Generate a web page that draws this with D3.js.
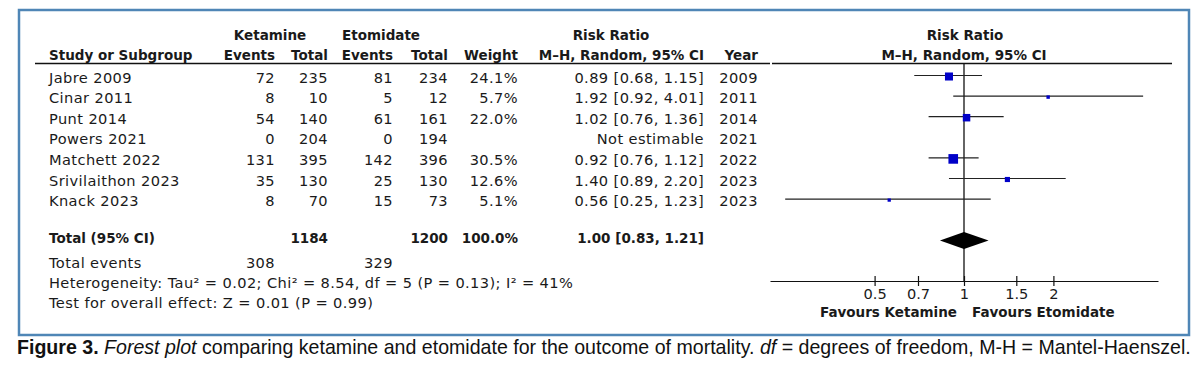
<!DOCTYPE html>
<html><head><meta charset="utf-8">
<script src="https://cdn.jsdelivr.net/npm/d3@7"></script>
<style>
html,body{margin:0;padding:0;background:#fff;}
svg text{font-family:"DejaVu Sans",sans-serif;fill:#1a1a1a;}
</style></head>
<body>
<svg id="c" width="1200" height="376"></svg>
<script>
// ---- data ----
const studies = ["Jabre 2009","Cinar 2011","Punt 2014","Powers 2021","Matchett 2022","Srivilaithon 2023","Knack 2023"];
const ketEvents = [72, 8, 54, 0, 131, 35, 8];
const ketTotal  = [235, 10, 140, 204, 395, 130, 70];
const etoEvents = [81, 5, 61, 0, 142, 25, 15];
const etoTotal  = [234, 12, 161, 194, 396, 130, 73];
const weights   = [24.1, 5.7, 22.0, null, 30.5, 12.6, 5.1];
const rr        = [0.89, 1.92, 1.02, null, 0.92, 1.40, 0.56];
const ciLow     = [0.68, 0.92, 0.76, null, 0.76, 0.89, 0.25];
const ciHigh    = [1.15, 4.01, 1.36, null, 1.12, 2.20, 1.23];
const years     = [2009, 2011, 2014, 2021, 2022, 2023, 2023];
const totalRR   = [1.00, 0.83, 1.21];   // estimate, low, high
const totalN    = [1184, 1200];         // ketamine, etomidate
const totalEvents = [308, 329];
const tickValues = [0.5, 0.7, 1, 1.5, 2];
const tickLabels = ["0.5", "0.7", "1", "1.5", "2"];

const svg = d3.select("#c");
const fmt2 = d3.format(".2f");
const fmtW = d => d == null ? "" : d3.format(".1f")(d) + "%";

// frame
svg.append("rect").attr("x",19).attr("y",10).attr("width",1170).attr("height",325)
  .attr("fill","none").attr("stroke","#4f86b6").attr("stroke-width",2.5);

const x = d3.scaleLog().domain([1/4.5, 4.5]).range([770, 1158]);
const y = d3.scaleLinear().domain([0, studies.length - 1]).range([75.5, 199.1]);
const sz = d3.scaleLinear().domain([0, 100]).range([2, 27]);

const fsR = 14.6, fsB = 13.5;
function txt(t, px, py, anchor, bold) {
  return svg.append("text").attr("x", px).attr("y", py).attr("text-anchor", anchor || "start")
    .attr("font-size", bold ? fsB : fsR).attr("font-weight", bold ? "bold" : "normal")
    .attr("letter-spacing", bold ? 0 : 0.4).text(t);
}

// headers
txt("Ketamine", 270, 40, "middle", true);
txt("Etomidate", 381, 40, "middle", true);
txt("Risk Ratio", 611, 40, "middle", true);
txt("Study or Subgroup", 49, 60, "start", true);
txt("Events", 275, 60, "end", true);
txt("Total", 328, 60, "end", true);
txt("Events", 393, 60, "end", true);
txt("Total", 448, 60, "end", true);
txt("Weight", 518, 60, "end", true);
txt("M\u2013H, Random, 95% CI", 704, 60, "end", true);
txt("Year", 758, 60, "end", true);
txt("Risk Ratio", 965, 40, "middle", true);
txt("M\u2013H, Random, 95% CI", 964, 60, "middle", true);
svg.append("line").attr("x1",35).attr("x2",770).attr("y1",63.5).attr("y2",63.5).attr("stroke","#111").attr("stroke-width",1.3);
svg.append("line").attr("x1",772).attr("x2",1172).attr("y1",63.5).attr("y2",63.5).attr("stroke","#111").attr("stroke-width",1.3);

// rows
studies.forEach((s, i) => {
  const by = y(i) + 7;
  txt(s, 49, by);
  txt(ketEvents[i], 275, by, "end");
  txt(ketTotal[i], 328, by, "end");
  txt(etoEvents[i], 393, by, "end");
  txt(etoTotal[i], 448, by, "end");
  txt(fmtW(weights[i]), 518, by, "end");
  txt(rr[i] == null ? "Not estimable" : `${fmt2(rr[i])} [${fmt2(ciLow[i])}, ${fmt2(ciHigh[i])}]`, 704, by, "end");
  txt(years[i], 758, by, "end");
});

// totals
const ty = 243;
txt("Total (95% CI)", 49, ty, "start", true);
txt(totalN[0], 328, ty, "end", true);
txt(totalN[1], 448, ty, "end", true);
txt("100.0%", 518, ty, "end", true);
txt(`${fmt2(totalRR[0])} [${fmt2(totalRR[1])}, ${fmt2(totalRR[2])}]`, 704, ty, "end", true);
txt("Total events", 49, 268);
txt(totalEvents[0], 275, 268, "end");
txt(totalEvents[1], 393, 268, "end");
txt("Heterogeneity: Tau\u00b2 = 0.02; Chi\u00b2 = 8.54, df = 5 (P = 0.13); I\u00b2 = 41%", 49, 288);
txt("Test for overall effect: Z = 0.01 (P = 0.99)", 49, 308);

// forest plot
const axisY = 281;
svg.append("line").attr("x1", x(1)).attr("x2", x(1)).attr("y1", 64).attr("y2", axisY)
  .attr("stroke","#111").attr("stroke-width",1.3);
const g = svg.append("g");
studies.forEach((s, i) => {
  if (rr[i] == null) return;
  g.append("line").attr("x1", x(ciLow[i])).attr("x2", x(ciHigh[i]))
    .attr("y1", y(i)).attr("y2", y(i)).attr("stroke","#222").attr("stroke-width",1.2);
  const w = sz(weights[i]);
  g.append("rect").attr("x", x(rr[i]) - w/2).attr("y", y(i) - w/2 + 1)
    .attr("width", w).attr("height", w).attr("fill","#0000c8");
});
const dy = 240.5, dh = 8.5;
svg.append("path").attr("d",
  `M${x(totalRR[1])},${dy} L${x(totalRR[0])},${dy-dh} L${x(totalRR[2])},${dy} L${x(totalRR[0])},${dy+dh} Z`)
  .attr("fill","#000");

const axis = d3.axisBottom(x).tickValues(tickValues)
  .tickFormat((d, i) => tickLabels[i]).tickSizeOuter(0).tickSizeInner(5).tickPadding(6);
const ag = svg.append("g").attr("transform", `translate(0,${axisY})`).call(axis);
ag.select(".domain").attr("stroke","#111").attr("stroke-width",1.2);
ag.selectAll(".tick line").attr("y1",-5).attr("y2",5).attr("stroke","#111").attr("stroke-width",1.2);
ag.selectAll(".tick text").attr("font-size", fsR).attr("font-family","DejaVu Sans").attr("fill","#1a1a1a").attr("y", 8).attr("dy","0.71em");
txt("Favours Ketamine", 957, 317, "end", true);
txt("Favours Etomidate", 972, 317, "start", true);

// caption
const cap = svg.append("text").attr("x", 17).attr("y", 354)
  .style("font-family", "'Liberation Sans', Arial, sans-serif").attr("font-size", 17).style("fill","#111");
cap.append("tspan").attr("font-weight","bold").text("Figure 3. ");
cap.append("tspan").attr("font-style","italic").text("Forest plot");
cap.append("tspan").text(" comparing ketamine and etomidate for the outcome of mortality. ");
cap.append("tspan").attr("font-style","italic").text("df");
cap.append("tspan").text(" = degrees of freedom, M-H = Mantel-Haenszel.");
let fsz = 17;
const target = 1190 - 17;
for (let k = 0; k < 4; k++) {
  const w = cap.node().getComputedTextLength();
  fsz = fsz * target / w;
  cap.attr("font-size", fsz);
}
</script>
</body></html>
